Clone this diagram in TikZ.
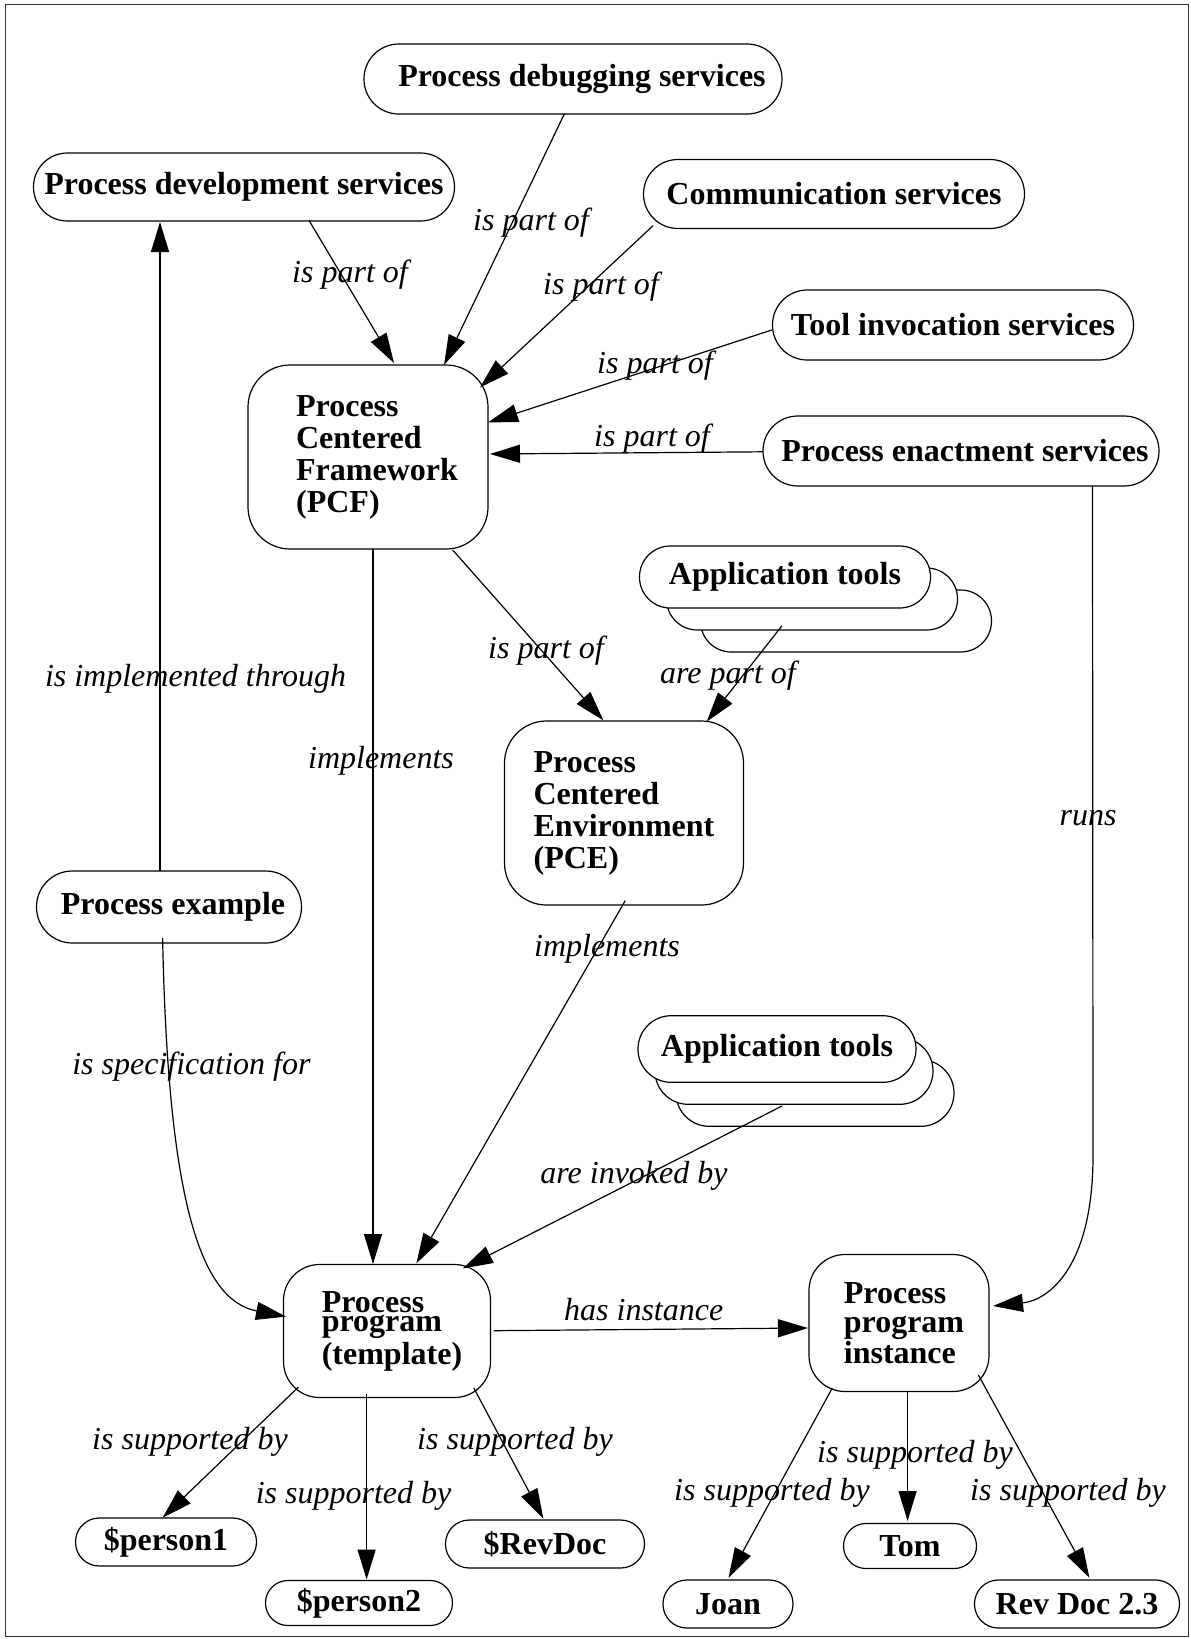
\documentclass[tikz,border=0pt]{standalone}
\usepackage{fontspec}
\setmainfont{Liberation Serif}
\usetikzlibrary{arrows.meta}
\begin{document}
\begin{tikzpicture}[x=0.5pt,y=-0.5pt,
  box/.style={draw, fill=white, line width=0.6pt, inner sep=0pt,
    font=\fontsize{16}{16}\selectfont\bfseries},
  pill/.style n args={3}{box, minimum width=#1, minimum height=#2, rounded corners=#3},
  tall/.style n args={3}{box, align=left, minimum width=#1, minimum height=#2, rounded corners=#3},
  lbl/.style={font=\fontsize{16}{16}\selectfont\itshape, anchor=base, inner sep=0pt},
  link/.style={line width=0.6pt},
  arr/.style={link, -{Triangle[length=15pt,width=9pt]}}
]
\useasboundingbox (0,0) rectangle (1190,1639);
\draw[line width=0.5pt, black!80] (5.5,4.5) rectangle (1188.5,1636.5);

% service nodes
\node[pill={209pt}{35pt}{17.4pt}]   (pds)  at (573,79)   {\hspace*{9pt}Process debugging services};
\node[pill={210.5pt}{34pt}{16.9pt}] (pdev) at (244,187)  {Process development services};
\node[pill={190.5pt}{34.5pt}{17.2pt}] (comm) at (834,194) {Communication services};
\node[pill={180.5pt}{35pt}{17.4pt}] (tool) at (953,325)  {Tool invocation services};
\node[pill={198pt}{35pt}{17.4pt}]   (pes)  at (961,451)  {\hspace*{4pt}Process enactment services};

% framework and environment
\node[tall={120pt}{92pt}{21pt}] (pcf) at (368,457)
  {\hspace*{9pt}Process\\\hspace*{9pt}Centered\\\hspace*{9pt}Framework\\\hspace*{9pt}(PCF)};
\node[tall={119.5pt}{92pt}{21pt}] (pce) at (624,813)
  {Process\\Centered\\Environment\\(PCE)};

% stacked application tools (upper)
\node[pill={145.5pt}{31pt}{15.4pt}] (at1c) at (846,621) {};
\node[pill={145.5pt}{31pt}{15.4pt}] (at1b) at (812,599) {};
\node[pill={145.5pt}{31pt}{15.4pt}] (at1)  at (785,577) {Application tools};

% stacked application tools (lower)
\node[pill={139pt}{33.3pt}{16.6pt}] (at2c) at (815,1093) {};
\node[pill={139pt}{33.3pt}{16.6pt}] (at2b) at (794,1071) {};
\node[pill={139pt}{33.3pt}{16.6pt}] (at2)  at (777,1049) {Application tools};

\node[pill={132.5pt}{36pt}{17.9pt}] (pex) at (169,907) {\hspace*{4pt}Process example};

% programs
\node[tall={103.5pt}{66.5pt}{18pt}] (ppt) at (387,1331)
  {\hspace*{5pt}Process\\[-6.4pt]\hspace*{5pt}program\\[0.4pt]\hspace*{5pt}(template)};
\node[tall={90pt}{68.5pt}{18pt}, font=\fontsize{16}{14.3}\selectfont\bfseries] (ppi) at (899,1323)
  {\hspace*{5pt}Process\\\hspace*{5pt}program\\\hspace*{5pt}instance};

% resources
\node[pill={90.5pt}{24pt}{11.9pt}]  (p1)   at (166,1542)  {\$person1};
\node[pill={93.5pt}{22.5pt}{11.2pt}] (p2)  at (359,1603)  {\$person2};
\node[pill={99.5pt}{24pt}{11.9pt}]  (rd)   at (545,1544)  {\$RevDoc};
\node[pill={66.5pt}{22.5pt}{11.2pt}] (tom) at (910,1546)  {Tom};
\node[pill={65pt}{24pt}{11.9pt}]    (joan) at (728,1604)  {Joan};
\node[pill={102.5pt}{24pt}{11.9pt}] (rd23) at (1077,1604) {Rev Doc 2.3};

% connectors into the framework
\draw[arr] ([shift={(-8.5,34.6)}]pds.center)  -- ([shift={(76,-92)}]pcf.center);
\draw[arr] ([shift={(65,33.4)}]pdev.center)   -- ([shift={(26,-94)}]pcf.center);
\draw[arr] ([shift={(-181,31.7)}]comm.center) -- ([shift={(112,-69.5)}]pcf.center);
\draw[arr] ([shift={(-181.2,5)}]tool.center)  -- ([shift={(120,-34.5)}]pcf.center);
\draw[arr] ([shift={(-198,0.8)}]pes.center)   -- ([shift={(122,-3)}]pcf.center);

% runs
\draw[arr] ([shift={(131.5,34.7)}]pes.center) -- ([shift={(194,-167)}]ppi.center)
  .. controls ([shift={(194,-58)}]ppi.center) and ([shift={(151,-23)}]ppi.center)
  .. ([shift={(94,-17)}]ppi.center);

% environment
\draw[arr] ([shift={(84.7,93)}]pcf.center) -- ([shift={(-20.6,-92.6)}]pce.center);
\draw[arr] ([shift={(-3,48.7)}]at1.center) -- ([shift={(82.7,-91.4)}]pce.center);

% implementations
\draw[arr] ([shift={(5,92)}]pcf.center)    -- ([shift={(-14,-67)}]ppt.center);
\draw[arr] ([shift={(1.2,87.7)}]pce.center) -- ([shift={(29.4,-67.7)}]ppt.center);
\draw[arr] ([shift={(5,57)}]at2.center)     -- ([shift={(76,-62.6)}]ppt.center);

% process example
\draw[arr] ([shift={(-9,-36)}]pex.center) -- ([shift={(-84,35)}]pdev.center);
\draw[arr] ([shift={(-6.4,31)}]pex.center)
  .. controls ([shift={(-219,-131)}]ppt.center) and ([shift={(-187,-31)}]ppt.center)
  .. ([shift={(-101,-14.4)}]ppt.center);

% instance
\draw[arr] ([shift={(106.5,-0.3)}]ppt.center) -- ([shift={(-91,5)}]ppi.center);

% support
\draw[arr] ([shift={(-88.5,56)}]ppt.center) -- ([shift={(-3.4,-24.3)}]p1.center);
\draw[arr] ([shift={(-20.4,63)}]ppt.center) -- ([shift={(7.6,-23.5)}]p2.center);
\draw[arr] ([shift={(86.8,57)}]ppt.center)  -- ([shift={(-1.6,-25.3)}]rd.center);
\draw[arr] ([shift={(-66.7,65)}]ppi.center) -- ([shift={(0.5,-26.2)}]joan.center);
\draw[arr] ([shift={(8.6,69)}]ppi.center)   -- ([shift={(-2.4,-25)}]tom.center);
\draw[arr] ([shift={(79.4,52)}]ppi.center)  -- ([shift={(12.4,-26.2)}]rd23.center);

% connector labels
\node[lbl] (l1)  at (531,230)   {is part of};
\node[lbl] (l2)  at (350,282)   {is part of};
\node[lbl] (l3)  at (601,294.6) {is part of};
\node[lbl] (l4)  at (655,373)   {is part of};
\node[lbl] (l5)  at (652,446.4) {is part of};
\node[lbl] (l6)  at (546,658)   {is part of};
\node[lbl] (l7)  at (728,683.3) {are part of};
\node[lbl] (l8)  at (195.5,686.4) {is implemented through};
\node[lbl] (l9)  at (381,768.6) {implements};
\node[lbl] (l10) at (607,956)   {implements};
\node[lbl] (l11) at (1088,825.7) {runs};
\node[lbl] (l12) at (191.4,1074) {is specification for};
\node[lbl] (l13) at (634,1183.3) {are invoked by};
\node[lbl] (l14) at (643.7,1320) {has instance};
\node[lbl] (l15) at (190,1449)  {is supported by};
\node[lbl] (l16) at (353.6,1503.3) {is supported by};
\node[lbl] (l17) at (515,1449.3) {is supported by};
\node[lbl] (l18) at (772,1500.5) {is supported by};
\node[lbl] (l19) at (915,1462.7) {is supported by};
\node[lbl] (l20) at (1068,1500.5) {is supported by};
\end{tikzpicture}
\end{document}
